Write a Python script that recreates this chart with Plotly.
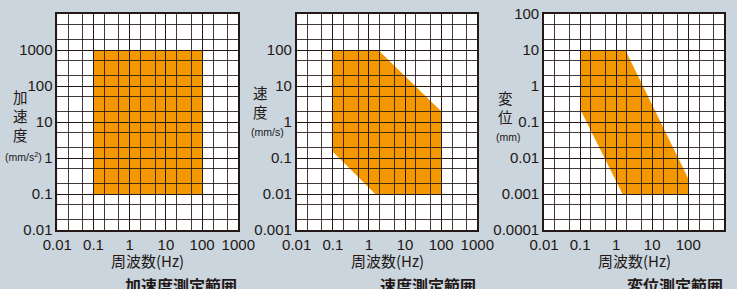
import plotly.graph_objects as go

# ---- data ----
freq_ticks = [0.01, 0.1, 1, 10, 100, 1000]
freq_labels = ["0.01", "0.1", "1", "10", "100", "1000"]

acc_ticks = [0.01, 0.1, 1, 10, 100, 1000]
acc_labels = ["0.01", "0.1", "1", "10", "100", "1000"]
vel_ticks = [0.001, 0.01, 0.1, 1, 10, 100]
vel_labels = ["0.001", "0.01", "0.1", "1", "10", "100"]
disp_ticks = [0.0001, 0.001, 0.01, 0.1, 1, 10, 100]
disp_labels = ["0.0001", "0.001", "0.01", "0.1", "1", "10", "100"]

acc_x = [0.1, 100, 100, 0.1]
acc_y = [0.1, 0.1, 1000, 1000]
vel_x = [0.1, 1.8, 100, 100, 1.5, 0.1]
vel_y = [100, 100, 2.0, 0.01, 0.01, 0.15]
disp_x = [0.1, 1.8, 100, 100, 1.5, 0.1]
disp_y = [10, 10, 0.0027, 0.001, 0.001, 0.23]

y_titles = ["加速度", "速度", "変位"]
y_units = ["(mm/s<sup>2</sup>)", "(mm/s)", "(mm)"]
x_title = "周波数(Hz)"
captions = ["加速度測定範囲", "速度測定範囲", "変位測定範囲"]

# ---- style ----
W, H = 737, 289
BG = "#cad5de"
ORANGE = "#f39800"
INK = "#231815"
NUM_FONT = "Liberation Sans, Arial, sans-serif"
JP_FONT = "Noto Sans CJK JP, sans-serif"

panels = [
    dict(x0=57.3, x1=238.3, yr=(-2, 4), ticks=acc_ticks, labels=acc_labels, px=acc_x, py=acc_y,
         title_xy=(20, 115), unit_xy=(24, 156)),
    dict(x0=296.7, x1=477.3, yr=(-3, 3), ticks=vel_ticks, labels=vel_labels, px=vel_x, py=vel_y,
         title_xy=(260, 102), unit_xy=(267, 132)),
    dict(x0=544.0, x1=724.3, yr=(-4, 2), ticks=disp_ticks, labels=disp_labels, px=disp_x, py=disp_y,
         title_xy=(505, 107), unit_xy=(508, 137)),
]
TOP, BOT = 14.0, 230.0


def minor_vals(lo, hi):
    out = []
    for e in range(lo, hi):
        for m in (2, 5):
            out.append(m * 10 ** e)
    return out


fig = go.Figure()
layout = dict(
    width=W, height=H, margin=dict(l=0, r=0, t=0, b=0),
    paper_bgcolor=BG, plot_bgcolor="white", showlegend=False,
)
shapes = []
annotations = []

for i, p in enumerate(panels):
    n = "" if i == 0 else str(i + 1)
    xa, ya = "x" + n, "y" + n
    axis_common = dict(
        type="log", showline=True, mirror=True, linecolor=INK, linewidth=1.6,
        showgrid=True, gridcolor=INK, gridwidth=1.3, zeroline=False, ticks="",
        tickfont=dict(family=NUM_FONT, size=15, color=INK), fixedrange=True,
        automargin=False,
    )
    layout["xaxis" + n] = dict(
        axis_common, domain=[p["x0"] / W, p["x1"] / W], range=[-2, 3], anchor=ya,
        tickmode="array", tickvals=freq_ticks, ticktext=freq_labels,
        minor=dict(tickmode="array", tickvals=minor_vals(-2, 3), showgrid=True,
                   gridcolor="rgba(35,24,21,0.85)", gridwidth=1.1, ticks=""),
    )
    layout["yaxis" + n] = dict(
        axis_common, domain=[1 - BOT / H, 1 - TOP / H], range=list(p["yr"]), anchor=xa,
        tickmode="array", tickvals=p["ticks"], ticktext=p["labels"],
        minor=dict(tickmode="array", tickvals=minor_vals(p["yr"][0], p["yr"][1]), showgrid=True,
                   gridcolor="rgba(35,24,21,0.85)", gridwidth=1.1, ticks=""),
    )
    path = "M " + " L ".join(f"{x},{y}" for x, y in zip(p["px"], p["py"])) + " Z"
    shapes.append(dict(type="path", path=path, xref=xa, yref=ya, layer="below",
                       fillcolor=ORANGE, line=dict(width=0)))
    # invisible trace to register axes
    fig.add_trace(go.Scatter(x=p["px"], y=p["py"], mode="none", xaxis=xa, yaxis=ya,
                             hoverinfo="skip"))
    tx, ty = p["title_xy"]
    annotations.append(dict(text="<br>".join(y_titles[i]), x=tx / W, y=1 - ty / H,
                            xref="paper", yref="paper", showarrow=False, xanchor="center",
                            yanchor="middle", borderpad=0,
                            font=dict(family=JP_FONT, size=14.5, color=INK)))
    ux, uy = p["unit_xy"]
    annotations.append(dict(text=y_units[i], x=ux / W, y=1 - uy / H, xref="paper", yref="paper",
                            showarrow=False, xanchor="center", yanchor="middle", borderpad=0,
                            font=dict(family=NUM_FONT, size=10.5, color=INK)))
    cx = (p["x0"] + p["x1"]) / 2
    annotations.append(dict(text=x_title, x=cx / W, y=1 - 260 / H, xref="paper", yref="paper",
                            showarrow=False, xanchor="center", yanchor="middle", borderpad=0,
                            font=dict(family=JP_FONT, size=15, color=INK)))
    annotations.append(dict(text="<b>" + captions[i] + "</b>", x=p["x1"] / W, y=1 - 285 / H,
                            xref="paper", yref="paper", showarrow=False, xanchor="right",
                            yanchor="middle", borderpad=0,
                            font=dict(family=JP_FONT, size=16, color=INK)))

layout["shapes"] = shapes
layout["annotations"] = annotations
fig.update_layout(**layout)
fig.write_html(
    "out.html",
    config={"displayModeBar": False},
    post_script="document.body.style.margin='0';document.body.style.background='" + BG + "';",
)
